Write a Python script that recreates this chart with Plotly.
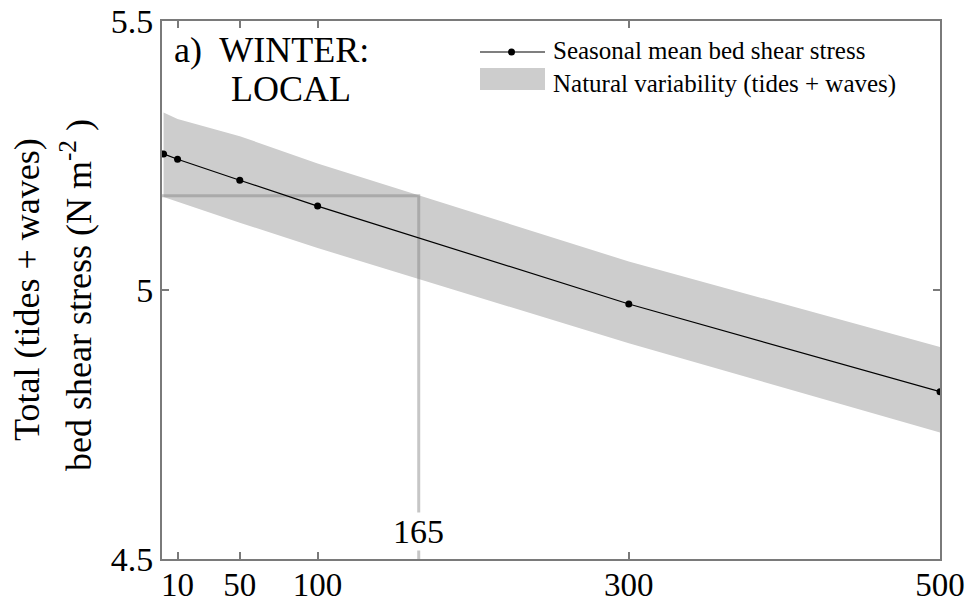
import plotly.graph_objects as go

# distance (x) and bed shear stress values
distance = [1, 10, 50, 100, 300, 500]
mean_stress = [5.253, 5.243, 5.204, 5.156, 4.974, 4.811]
upper_stress = [5.330, 5.318, 5.286, 5.235, 5.053, 4.894]
lower_stress = [5.173, 5.164, 5.125, 5.078, 4.901, 4.735]

x_ticks = [10, 50, 100, 300, 500]
y_ticks = [4.5, 5, 5.5]
threshold_x = 165
threshold_y = 5.175

FONT = "Liberation Serif, Times New Roman, serif"
BAND = "#cdcdcd"
AXIS = "#7a7a7a"
REF = "rgba(128,128,128,0.45)"

# pixel -> paper helpers (plot area 162..940 x 21..559)
L, R, T, B = 162, 940, 21, 559


def px(x):
    return (x - L) / (R - L)


def py(y):
    return (B - y) / (B - T)


def label(x, y, text, size, **kw):
    fig.add_annotation(x=x, y=y, xref="paper", yref="paper", text=text,
                       showarrow=False, yanchor="middle",
                       font=dict(family=FONT, size=size, color="black"), **kw)


fig = go.Figure()

# natural variability band
fig.add_trace(go.Scatter(x=distance, y=upper_stress, mode="lines",
                         line=dict(width=0, color=BAND), hoverinfo="skip",
                         showlegend=False))
fig.add_trace(go.Scatter(x=distance, y=lower_stress, mode="lines",
                         line=dict(width=0, color=BAND), fill="tonexty",
                         fillcolor=BAND, showlegend=False))

# reference lines at 165
fig.add_trace(go.Scatter(x=[0, threshold_x, threshold_x], y=[threshold_y, threshold_y, 4.5],
                         mode="lines", line=dict(color=REF, width=3),
                         showlegend=False, hoverinfo="skip"))

# seasonal mean
fig.add_trace(go.Scatter(x=distance, y=mean_stress, mode="lines+markers",
                         line=dict(color="black", width=1.2),
                         marker=dict(color="black", size=7),
                         showlegend=False))

fig.add_annotation(x=threshold_x, y=4.552, xref="x", yref="y", text="165",
                   showarrow=False, xanchor="center", yanchor="middle",
                   font=dict(family=FONT, size=34, color="black"),
                   bgcolor="white", borderpad=0)

# panel label
label(px(172), py(50), "a)  WINTER:", 36, xanchor="left")
label(px(229), py(89), "LOCAL", 36, xanchor="left")

# manual legend
fig.add_shape(type="line", xref="paper", yref="paper",
              x0=px(480), x1=px(545), y0=py(52), y1=py(52),
              line=dict(color="black", width=1.2))
fig.add_shape(type="circle", xref="paper", yref="paper",
              x0=px(508), x1=px(515), y0=py(48.5), y1=py(55.5),
              fillcolor="black", line=dict(width=0))
fig.add_shape(type="rect", xref="paper", yref="paper",
              x0=px(480), x1=px(545), y0=py(68), y1=py(90),
              fillcolor=BAND, line=dict(width=0))
label(px(551), py(67), "Seasonal mean bed shear stress<br>Natural variability (tides + waves)",
      25, xanchor="left", align="left")

# y-axis title as two rotated lines
label(-(L - 27) / (R - L), py(290), "Total (tides + waves)", 36,
      xanchor="center", textangle=-90)
label(-(L - 76) / (R - L), py(295), "bed shear stress (N m<sup>-2</sup> )", 36,
      xanchor="center", textangle=-90)

axis_style = dict(showline=True, linecolor=AXIS, linewidth=2, mirror="ticks",
                  ticks="inside", ticklen=7, tickcolor=AXIS, tickwidth=1.5,
                  showgrid=False, zeroline=False, automargin=False)

fig.update_xaxes(range=[0, 500], tickvals=x_ticks, ticktext=[str(v) for v in x_ticks],
                 ticklabelstandoff=-5,
                 tickfont=dict(family=FONT, size=33, color="black"), **axis_style)
fig.update_yaxes(range=[4.5, 5.5], tickvals=y_ticks, ticktext=["4.5", "5", "5.5"],
                 tickfont=dict(family=FONT, size=34, color="black"), **axis_style)

fig.update_layout(width=972, height=606,
                  margin=dict(l=L, r=972 - R, t=T, b=606 - B),
                  plot_bgcolor="white", paper_bgcolor="white",
                  showlegend=False, font=dict(family=FONT))

fig.write_html("out.html", config={"displayModeBar": False},
               post_script="document.body.style.margin='0';")
